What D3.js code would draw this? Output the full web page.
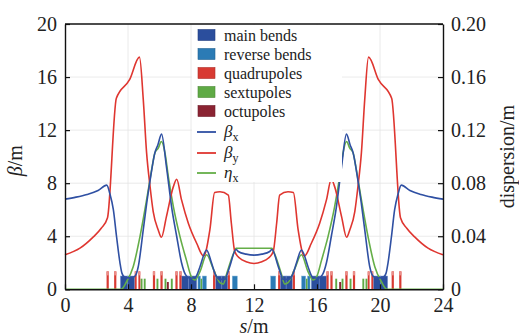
<!DOCTYPE html>
<html>
<head>
<meta charset="utf-8">
<script src="https://cdn.jsdelivr.net/npm/d3@7"></script>
<style>
  html, body { margin: 0; padding: 0; background: #fff; }
  svg { display: block; }
  svg text { font-family: "Liberation Serif", "Times New Roman", Tinos, "Noto Serif", "DejaVu Serif", serif; fill: #222; }
</style>
</head>
<body>
<svg id="chart" width="519" height="336"></svg>
<script>
// ---- lattice functions: [s (m), value] ----
const betaX = [[0,6.8],[0.7,6.95],[1.4,7.15],[2.1,7.45],[2.65,7.85],[2.85,7.2],[3.07,6.0],[3.27,4.0],[3.49,2.0],[3.62,1.2],[3.8,0.9],[4.2,0.85],[4.45,1.0],[4.65,1.7],[4.97,4.5],[5.2,6.6],[5.4,8.2],[5.71,10.3],[5.9,10.9],[6.13,11.7],[6.44,9.25],[6.77,6.2],[7.09,4.0],[7.4,2.0],[7.65,1.1],[7.9,0.85],[8.25,0.85],[8.4,1.15],[8.57,1.7],[8.99,2.95],[9.3,2.0],[9.55,1.1],[9.8,0.75],[10.15,0.75],[10.3,1.15],[10.48,1.8],[10.86,3.0],[11.0,2.85],[11.5,2.65],[12,2.58],
  [12.5,2.65],[13.0,2.85],[13.14,3.0],[13.52,1.8],[13.7,1.15],[13.85,0.75],[14.2,0.75],[14.45,1.1],[14.7,2.0],[15.01,2.95],[15.43,1.7],[15.6,1.15],[15.75,0.85],[16.1,0.85],[16.35,1.1],[16.6,2.0],[16.91,4.0],[17.23,6.2],[17.56,9.25],[17.87,11.7],[18.1,10.9],[18.29,10.3],[18.6,8.2],[18.8,6.6],[19.03,4.5],[19.35,1.7],[19.55,1.0],[19.8,0.85],[20.2,0.9],[20.38,1.2],[20.51,2.0],[20.73,4.0],[20.93,6.0],[21.15,7.2],[21.35,7.85],[21.9,7.45],[22.6,7.15],[23.3,6.95],[24,6.8]];

const betaY = [[0,2.6],[0.95,3.1],[1.8,3.95],[2.3,4.6],[2.7,5.4],[3.26,14.4],[4.1,15.8],[4.73,17.5],[4.97,14.3],[5.18,10.3],[5.4,7.75],[5.6,5.86],[5.92,4.47],[6.12,3.92],[6.44,5.48],[6.88,7.74],[7.09,8.3],[7.4,6.74],[7.83,4.98],[8.36,3.47],[8.8,2.5],[9.2,4.5],[9.5,7.3],[9.84,7.35],[10.37,7.1],[10.56,5.0],[10.78,2.84],[11.1,2.34],[11.5,2.08],[12,1.95],
  [12.5,2.08],[12.9,2.34],[13.22,2.84],[13.44,5.0],[13.63,7.1],[14.16,7.35],[14.5,7.3],[14.8,4.5],[15.2,2.5],[15.64,3.47],[16.17,4.98],[16.6,6.74],[16.91,8.3],[17.12,7.74],[17.56,5.48],[17.88,3.92],[18.08,4.47],[18.4,5.86],[18.6,7.75],[18.82,10.3],[19.03,14.3],[19.27,17.5],[19.9,15.8],[20.74,14.4],[21.3,5.4],[21.7,4.6],[22.2,3.95],[23.05,3.1],[24,2.6]];

const etaX = [[0,0],[3.55,0],[3.91,0.0057],[4.33,0.017],[4.76,0.0397],[5.18,0.0674],[5.5,0.09],[5.71,0.103],[5.92,0.1064],[6.12,0.1114],[6.35,0.1026],[6.56,0.085],[6.88,0.0623],[7.3,0.0397],[7.71,0.022],[8.02,0.0095],[8.25,0.007],[8.57,0.0133],[8.99,0.026],[9.4,0.0158],[9.84,0.005],[10.05,0.004],[10.27,0.012],[10.7,0.027],[10.86,0.031],[12,0.031],
  [13.14,0.031],[13.3,0.027],[13.73,0.012],[13.95,0.004],[14.16,0.005],[14.6,0.0158],[15.01,0.026],[15.43,0.0133],[15.75,0.007],[15.98,0.0095],[16.29,0.022],[16.7,0.0397],[17.12,0.0623],[17.44,0.085],[17.65,0.1026],[17.88,0.1114],[18.08,0.1064],[18.29,0.103],[18.5,0.09],[18.82,0.0674],[19.24,0.0397],[19.67,0.017],[20.09,0.0057],[20.45,0],[24,0]];

// ---- magnet layout: [s start, s end] ----
const mainBends = [[3.52,3.98],[3.98,4.42],[7.4,7.86],[7.86,8.36],[9.57,9.96],[9.96,10.33],
                   [13.67,14.04],[14.04,14.43],[15.64,16.14],[16.14,16.6],[19.58,20.02],[20.02,20.48]];
const reverseBends = [[8.44,8.6],[8.72,8.98],[10.62,10.94],[13.06,13.38],[15.02,15.28],[15.4,15.56]];
const quadrupoles = [[2.64,2.78],[3.12,3.26],[4.43,4.55],[4.66,4.78],[5.58,5.72],[6.06,6.2],[7.01,7.15],[7.26,7.4],[9.4,9.54],[10.34,10.47],
                     [13.53,13.66],[14.46,14.6],[16.6,16.74],[16.85,16.99],[17.8,17.94],[18.28,18.42],[19.22,19.34],[19.45,19.57],[20.74,20.88],[21.22,21.36]];
const sextupoles = [[4.8,4.92],[5.0,5.12],[5.81,5.93],[6.32,6.44],[6.72,6.84],[8.61,8.7],
                    [15.3,15.39],[17.16,17.28],[17.56,17.68],[18.07,18.19],[18.88,19.0],[19.08,19.2]];
const octupoles = [[6.47,6.59],[17.41,17.53]];

// ---- axis ticks ----
const sTicks = [0, 4, 8, 12, 16, 20, 24];
const betaTicks = [0, 4, 8, 12, 16, 20];
const dispTicks = [0, 0.04, 0.08, 0.12, 0.16, 0.20];

const colors = {
  main: "#2b4e9d", reverse: "#2b7bb5", quad: "#d83a32", sext: "#5faa45", oct: "#8a2332",
  bx: "#2f50a3", by: "#df3630", eta: "#65ae48"
};
const FONT = '"Liberation Serif", "Times New Roman", Tinos, "Noto Serif", "DejaVu Serif", serif';

const svg = d3.select("#chart");
const margin = { left: 65, right: 76, top: 24, bottom: 46.7 };
const W = 519, H = 336;
const x = d3.scaleLinear().domain([0, 24]).range([margin.left, W - margin.right]);
const yL = d3.scaleLinear().domain([0, 20]).range([H - margin.bottom, margin.top]);
const yR = d3.scaleLinear().domain([0, 0.2]).range([H - margin.bottom, margin.top]);

// grid
const grid = svg.append("g").attr("stroke", "#e4e4e4").attr("stroke-width", 0.8);
grid.selectAll("line.v").data(sTicks.slice(1, -1)).join("line")
  .attr("x1", d => x(d)).attr("x2", d => x(d)).attr("y1", yL(0)).attr("y2", yL(20));
grid.selectAll("line.h").data(betaTicks.slice(1, -1)).join("line")
  .attr("y1", d => yL(d)).attr("y2", d => yL(d)).attr("x1", x(0)).attr("x2", x(24));

// magnets drawn from the baseline
function magnets(data, height, color, stroke) {
  svg.append("g").selectAll("rect").data(data).join("rect")
    .attr("x", d => x(d[0])).attr("width", d => Math.max(1.5, x(d[1]) - x(d[0])))
    .attr("y", yL(height)).attr("height", yL(0) - yL(height))
    .attr("fill", color).attr("stroke", stroke || "none").attr("stroke-width", 0.5);
}
magnets(mainBends, 1.0, colors.main, "#6f8cc8");
magnets(reverseBends, 1.0, colors.reverse, "#7fb2d8");
magnets(sextupoles, 0.8, colors.sext);
magnets(octupoles, 0.55, colors.oct);
magnets(quadrupoles, 1.35, colors.quad);
// lighter cap on each quadrupole
svg.append("g").selectAll("rect").data(quadrupoles).join("rect")
  .attr("x", d => x(d[0])).attr("width", d => Math.max(1.5, x(d[1]) - x(d[0])))
  .attr("y", yL(1.35)).attr("height", yL(1.05) - yL(1.35))
  .attr("fill", "#eb8f8a");

// curves
const lineL = d3.line().x(d => x(d[0])).y(d => yL(d[1])).curve(d3.curveMonotoneX);
const lineR = d3.line().x(d => x(d[0])).y(d => yR(d[1])).curve(d3.curveMonotoneX);
svg.append("path").datum(etaX).attr("d", lineR).attr("fill", "none").attr("stroke", colors.eta).attr("stroke-width", 1.6);
svg.append("path").datum(betaY).attr("d", lineL).attr("fill", "none").attr("stroke", colors.by).attr("stroke-width", 1.6);
svg.append("path").datum(betaX).attr("d", lineL).attr("fill", "none").attr("stroke", colors.bx).attr("stroke-width", 1.6);

// axes with inward ticks
function styleAxis(g) {
  g.attr("font-family", FONT).attr("font-size", 20);
  g.selectAll(".domain").attr("stroke", "#111").attr("stroke-width", 1.4);
  g.selectAll(".tick line").attr("stroke", "#111").attr("stroke-width", 1.2);
  g.selectAll(".tick text").attr("fill", "#222");
}
svg.append("g").attr("transform", `translate(${x(0)},0)`)
  .call(d3.axisLeft(yL).tickValues(betaTicks).tickFormat(d3.format("d")).tickSizeInner(-5).tickSizeOuter(0).tickPadding(8))
  .call(styleAxis);
svg.append("g").attr("transform", `translate(${x(24)},0)`)
  .call(d3.axisRight(yR).tickValues(dispTicks).tickFormat(d => d === 0 ? "0" : d3.format(".2f")(d)).tickSizeInner(-5).tickSizeOuter(0).tickPadding(8))
  .call(styleAxis);
svg.append("g").attr("transform", `translate(0,${yL(0)})`)
  .call(d3.axisBottom(x).tickValues(sTicks).tickFormat(d3.format("d")).tickSizeInner(-5).tickSizeOuter(0).tickPadding(9))
  .call(styleAxis);
svg.append("line").attr("x1", x(0)).attr("x2", x(24)).attr("y1", yL(20)).attr("y2", yL(20))
  .attr("stroke", "#111").attr("stroke-width", 1.4);

// axis titles
const yTitle = svg.append("text").attr("transform", `translate(22,${(yL(0) + yL(20)) / 2 + 4}) rotate(-90)`)
  .attr("text-anchor", "middle").attr("font-size", 20);
yTitle.append("tspan").attr("font-style", "italic").text("β");
yTitle.append("tspan").text("/m");

svg.append("text").attr("transform", `translate(514,${(yL(0) + yL(20)) / 2}) rotate(-90)`)
  .attr("text-anchor", "middle").attr("font-size", 20).text("dispersion/m");

const xTitle = svg.append("text").attr("x", x(12)).attr("y", 333).attr("text-anchor", "middle").attr("font-size", 20);
xTitle.append("tspan").attr("font-style", "italic").text("s");
xTitle.append("tspan").text("/m");

// legend
const legend = svg.append("g");
legend.append("rect").attr("x", 192).attr("y", 25).attr("width", 150).attr("height", 157).attr("fill", "#fff");
const boxItems = [
  { label: "main bends", color: colors.main, y: 35 },
  { label: "reverse bends", color: colors.reverse, y: 54 },
  { label: "quadrupoles", color: colors.quad, y: 73 },
  { label: "sextupoles", color: colors.sext, y: 92 },
  { label: "octupoles", color: colors.oct, y: 111 }
];
boxItems.forEach(it => {
  legend.append("rect").attr("x", 198).attr("y", it.y - 5.5).attr("width", 17).attr("height", 11)
    .attr("fill", it.color).attr("stroke", d3.color(it.color).darker(0.6)).attr("stroke-width", 0.6);
  legend.append("text").attr("x", 224).attr("y", it.y + 5.5).attr("font-size", 16).text(it.label);
});
const lineItems = [
  { sym: "β", sub: "x", color: colors.bx, y: 132 },
  { sym: "β", sub: "y", color: colors.by, y: 153 },
  { sym: "η", sub: "x", color: colors.eta, y: 173 }
];
lineItems.forEach(it => {
  legend.append("line").attr("x1", 197).attr("x2", 216).attr("y1", it.y).attr("y2", it.y)
    .attr("stroke", it.color).attr("stroke-width", 1.8);
  const t = legend.append("text").attr("x", 224).attr("y", it.y + 5).attr("font-size", 17);
  t.append("tspan").attr("font-style", "italic").text(it.sym);
  t.append("tspan").attr("dy", 4).attr("font-size", 12).text(it.sub);
});
</script>
</body>
</html>
